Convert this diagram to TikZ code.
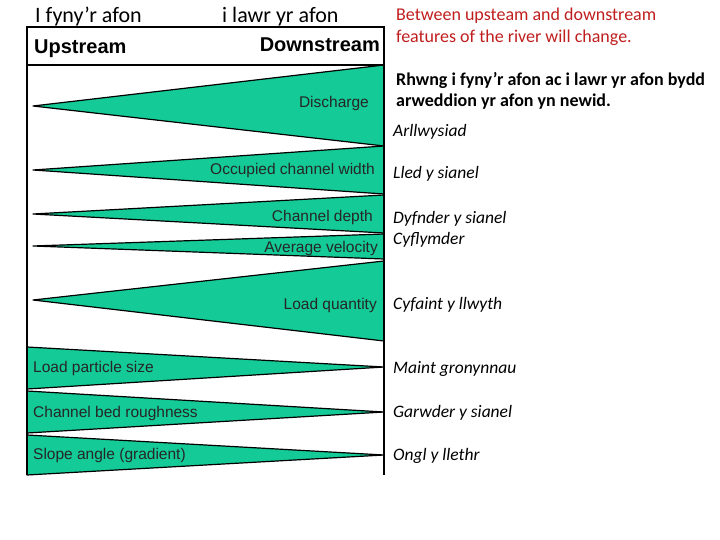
\documentclass[tikz,border=0pt]{standalone}
\usepackage{fontspec}
\setmainfont{Carlito}
\newfontfamily\arialfont{Liberation Sans}
\definecolor{rivergreen}{RGB}{20,202,150}
\definecolor{notered}{RGB}{192,30,30}
\tikzset{
  wedge/.style={draw=black,line width=1.2pt,fill=rivergreen,line join=round},
  frameline/.style={line width=1.4pt},
  feature/.style={font=\arialfont\fontsize{15.5}{16}\selectfont,text=black!85,inner sep=0pt},
  welsh/.style={font=\itshape\fontsize{17.5}{19}\selectfont,inner sep=0pt,anchor=base west},
}
\begin{document}
\begin{tikzpicture}[x=1pt,y=-1pt]
            \useasboundingbox (0,0) rectangle (720,540);

            % heading above the table
            \node[inner sep=0pt,anchor=base west,font=\fontsize{22}{24}\selectfont] (up) at (35, 23) {I fyny’r afon};
            \node[inner sep=0pt,anchor=base west,font=\fontsize{22}{24}\selectfont] (down) at (222, 23) {i lawr yr afon};

            % wedges widening downstream
            \draw[wedge] (33, 106) -- (384, 65) -- (384, 146) -- cycle;
            \draw[wedge] (33, 170) -- (384, 146) -- (384, 194) -- cycle;
            \draw[wedge] (33, 214) -- (384, 195) -- (384, 233) -- cycle;
            \draw[wedge] (33, 246) -- (384, 234) -- (384, 259) -- cycle;
            \draw[wedge] (33, 300) -- (384, 261) -- (384, 341) -- cycle;
            % wedges narrowing downstream
            \draw[wedge] (384, 367) -- (27, 347) -- (27, 389) -- cycle;
            \draw[wedge] (384, 412) -- (27, 391) -- (27, 433) -- cycle;
            \draw[wedge] (384, 455) -- (27, 435) -- (27, 475) -- cycle;

            % frame
            \draw[frameline] (27, 475) -- (27, 27) -- (384, 27) -- (384, 475);
            \draw[frameline] (27, 65) -- (384, 65);
            \node[inner sep=0pt,anchor=base west,font=\arialfont\bfseries\fontsize{20}{22}\selectfont] (U) at (34, 54) {Upstream};
            \node[inner sep=0pt,anchor=base east,font=\arialfont\bfseries\fontsize{20}{22}\selectfont] (D) at (380, 52) {Downstream};

            \node[feature,anchor=base east] (A) at (369, 108) {Discharge};
            \node[feature,anchor=base east] (B) at (375, 175) {Occupied channel width};
            \node[feature,anchor=base east] (C) at (373, 222) {Channel depth};
            \node[feature,anchor=base east] (E) at (378, 252) {Average velocity};
            \node[feature,anchor=base east] (F) at (377, 309) {Load quantity};
            \node[feature,anchor=base west] (G) at (33, 372) {Load particle size};
            \node[feature,anchor=base west] (H) at (33, 417) {Channel bed roughness};
            \node[feature,anchor=base west] (K) at (33, 459) {Slope angle (gradient)};

            % notes on the right
            \node[inner sep=0pt,anchor=base west,align=left,text=notered,font=\fontsize{18}{22}\selectfont] (N1) at (396, 43) {Between upsteam and downstream\\features of the river will change.};
            \node[inner sep=0pt,anchor=base west,align=left,font=\bfseries\fontsize{18}{21}\selectfont] (N2) at (396, 107) {Rhwng i fyny'r afon ac i lawr yr afon bydd\\arweddion yr afon yn newid.};

            \node[welsh] (a) at (393, 137) {Arllwysiad};
            \node[welsh] (b) at (393, 179) {Lled y sianel};
            \node[welsh] (c) at (393, 223) {Dyfnder y sianel};
            \node[welsh] (e) at (393, 244) {Cyflymder};
            \node[welsh] (f) at (393, 309) {Cyfaint y llwyth};
            \node[welsh] (g) at (393, 373) {Maint gronynnau};
            \node[welsh] (h) at (393, 417) {Garwder y sianel};
            \node[welsh] (k) at (393, 460) {Ongl y llethr};
\end{tikzpicture}
\end{document}
